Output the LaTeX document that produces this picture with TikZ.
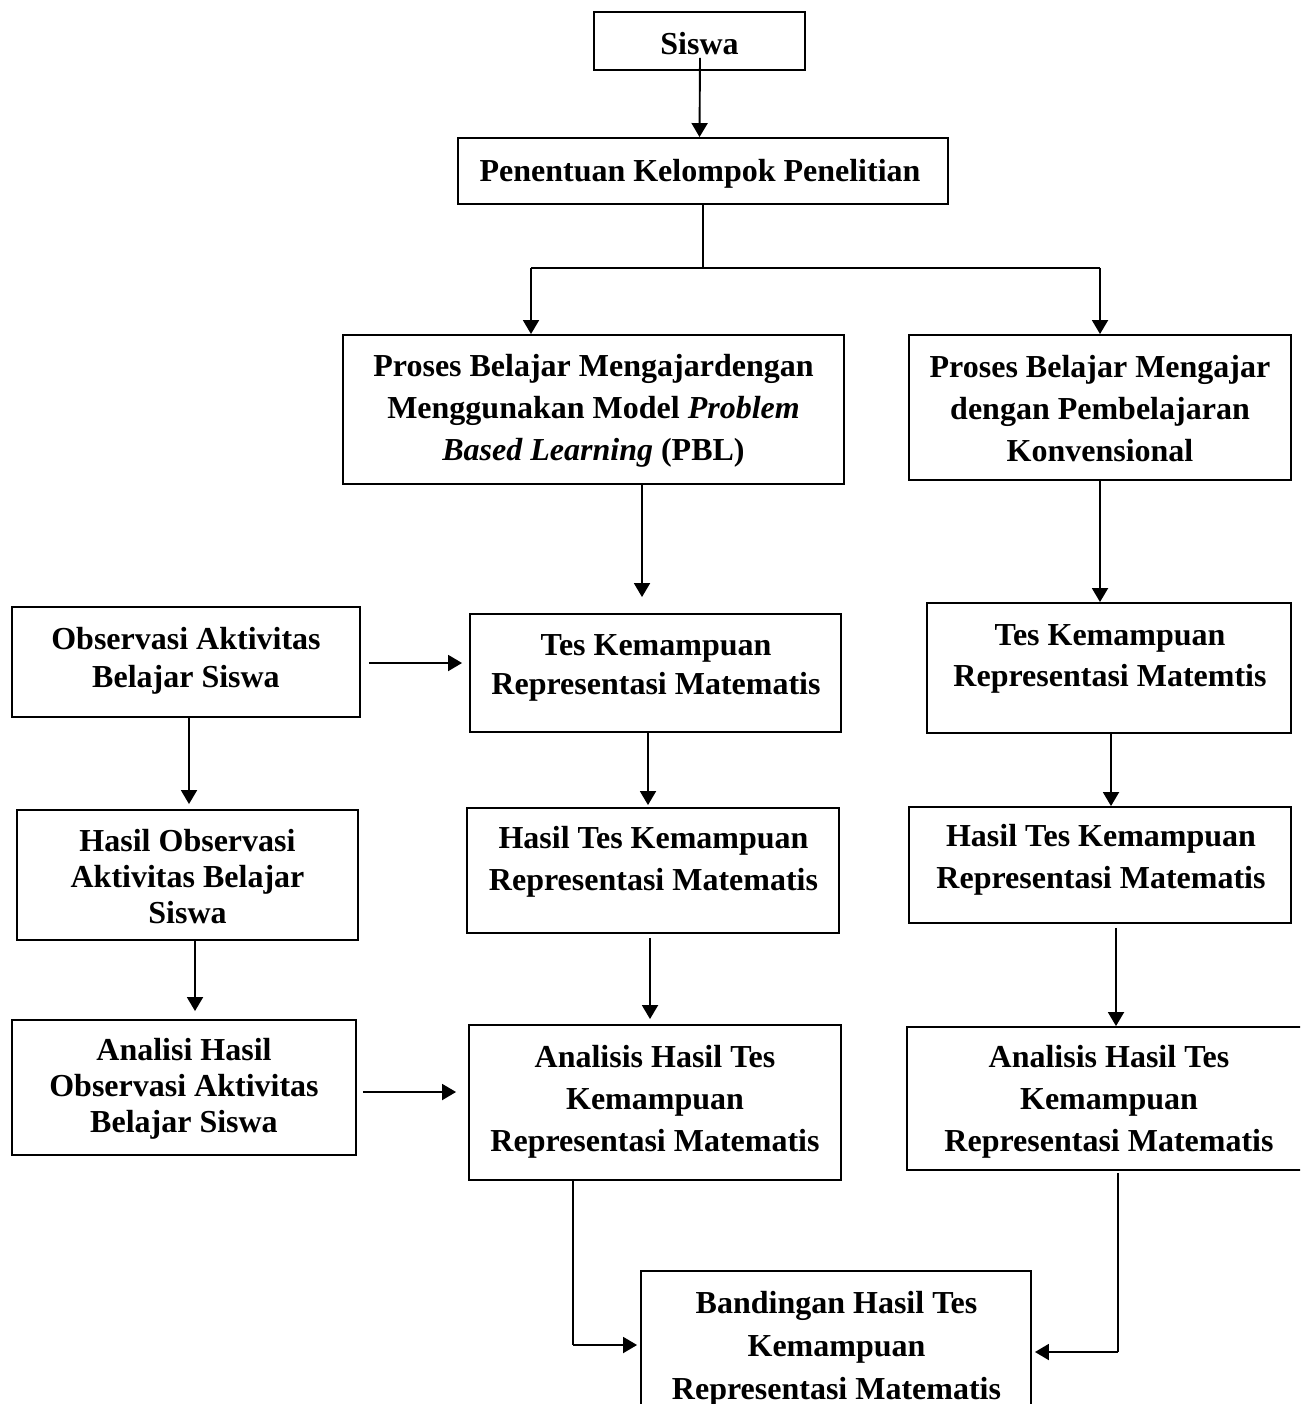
\documentclass[tikz,border=0pt]{standalone}
\usepackage{fontspec}
\setmainfont{Liberation Serif}
\usetikzlibrary{arrows.meta,calc}
\begin{document}
\begin{tikzpicture}[x=1pt,y=-1pt,
  box/.style={draw, line width=1.9pt, inner sep=0, minimum width=#1},
  txt/.style={align=center, inner sep=0, font=\bfseries\fontsize{32}{42}\selectfont},
  txtn/.style={align=center, inner sep=0, font=\bfseries\fontsize{32}{#1}\selectfont},
  arr/.style={line width=1.9pt, -{Triangle[length=14pt,width=16pt]}},
  ln/.style={line width=1.9pt}]
\useasboundingbox (0,0) rectangle (1300,1404);
\clip (0,0) rectangle (1300,1404);
\fill[white] (0,0) rectangle (1300,1404);
% boxes
\node[box=211pt, minimum height=58pt] (siswa) at (699.5,41) {};
\node[box=490pt, minimum height=66pt] (pen) at (703,171) {};
\node[box=501pt, minimum height=149pt] (pbl) at (593.5,409.5) {};
\node[box=382pt, minimum height=145pt] (konv) at (1100,407.5) {};
\node[box=348pt, minimum height=110pt] (obs) at (186,662) {};
\node[box=371pt, minimum height=118pt] (tesm) at (655.5,673) {};
\node[box=364pt, minimum height=130pt] (tesr) at (1109,668) {};
\node[box=341pt, minimum height=130pt] (hobs) at (187.5,875) {};
\node[box=372pt, minimum height=125pt] (hm) at (653,870.5) {};
\node[box=382pt, minimum height=116pt] (hr) at (1100,865) {};
\node[box=344pt, minimum height=135pt] (aobs) at (184,1087.5) {};
\node[box=372pt, minimum height=155pt] (am) at (655,1102.5) {};
\node[box=396pt, minimum height=143pt] (ar) at (1105,1098.5) {};
\node[box=390pt, minimum height=149pt] (band) at (836,1345.5) {};
% texts
\node[txt] (tsiswa) at (699.5,44) {Siswa};
\node[txt] (tpen) at (700,174) {Penentuan Kelompok Penelitian};
\node[txt] (tpbl) at (593.5,411) {Proses Belajar Mengajardengan\\Menggunakan Model \textit{Problem}\\\textit{Based Learning} (PBL)};
\node[txt] (tkonv) at (1100,409) {Proses Belajar Mengajar\\dengan Pembelajaran\\Konvensional};
\node[txtn=38] (tobs) at (186,661) {Observasi Aktivitas\\Belajar Siswa};
\node[txtn=39] (ttesm) at (656,668) {Tes Kemampuan\\Representasi Matematis};
\node[txtn=41] (ttesr) at (1110,659) {Tes Kemampuan\\Representasi Matemtis};
\node[txtn=36] (thobs) at (187.5,877) {Hasil Observasi\\Aktivitas Belajar\\Siswa};
\node[txt] (thm) at (653.5,862) {Hasil Tes Kemampuan\\Representasi Matematis};
\node[txt] (thr) at (1101,860) {Hasil Tes Kemampuan\\Representasi Matematis};
\node[txtn=36] (taobs) at (184,1089) {Analisi Hasil\\Observasi Aktivitas\\Belajar Siswa};
\node[txt] (tam) at (655,1102) {Analisis Hasil Tes\\Kemampuan\\Representasi Matematis};
\node[txt] (tar) at (1109,1102) {Analisis Hasil Tes\\Kemampuan\\Representasi Matematis};
\node[txtn=43] (tband) at (836.5,1349) {Bandingan Hasil Tes\\Kemampuan\\Representasi Matematis};
% connectors
\draw[arr] ($(siswa.south)+(0.5,-13)$) -- (pen.north -| siswa.south);
\coordinate (jl) at (531,268);
\coordinate (jr) at (1100,268);
\draw[ln] (pen.south) -- (pen.south |- jl);
\draw[ln] (jl) -- (jr);
\draw[arr] (jl) -- (jl |- pbl.north);
\draw[arr] (jr) -- (jr |- konv.north);
\draw[arr] ($(pbl.south)+(48.5,0)$) -- ($(tesm.north)+(-13.5,-16)$);
\draw[arr] (konv.south) -- (konv.south |- tesr.north);
\draw[arr] ($(obs.east)+(8,1)$) -- ($(tesm.west |- obs.east)+(-7,1)$);
\draw[arr] ($(obs.south)+(3,0)$) -- ($(obs.south |- hobs.north)+(3,-5)$);
\draw[arr] ($(hobs.south)+(7.5,0)$) -- ($(hobs.south |- aobs.north)+(7.5,-8)$);
\draw[arr] ($(aobs.east)+(6,4.5)$) -- ($(am.west |- aobs.east)+(-12,4.5)$);
\draw[arr] ($(tesm.south)+(-7.5,0)$) -- ($(tesm.south |- hm.north)+(-7.5,-2)$);
\draw[arr] ($(hm.south)+(-3,4)$) -- ($(hm.south |- am.north)+(-3,-5)$);
\draw[arr] ($(tesr.south)+(2,0)$) -- ($(tesr.south |- hr.north)+(2,0)$);
\draw[arr] ($(hr.south)+(16,4)$) -- ($(hr.south |- ar.north)+(16,0)$);
\coordinate (bl) at (573,1345);
\coordinate (br) at (1118,1352);
\draw[ln] ($(am.south)+(-82,0)$) -- (bl);
\draw[arr] (bl) -- ($(band.west |- bl)+(-3,0)$);
\draw[ln] ($(ar.south)+(13,2)$) -- (br);
\draw[arr] (br) -- ($(band.east |- br)+(3,0)$);
\end{tikzpicture}
\end{document}
